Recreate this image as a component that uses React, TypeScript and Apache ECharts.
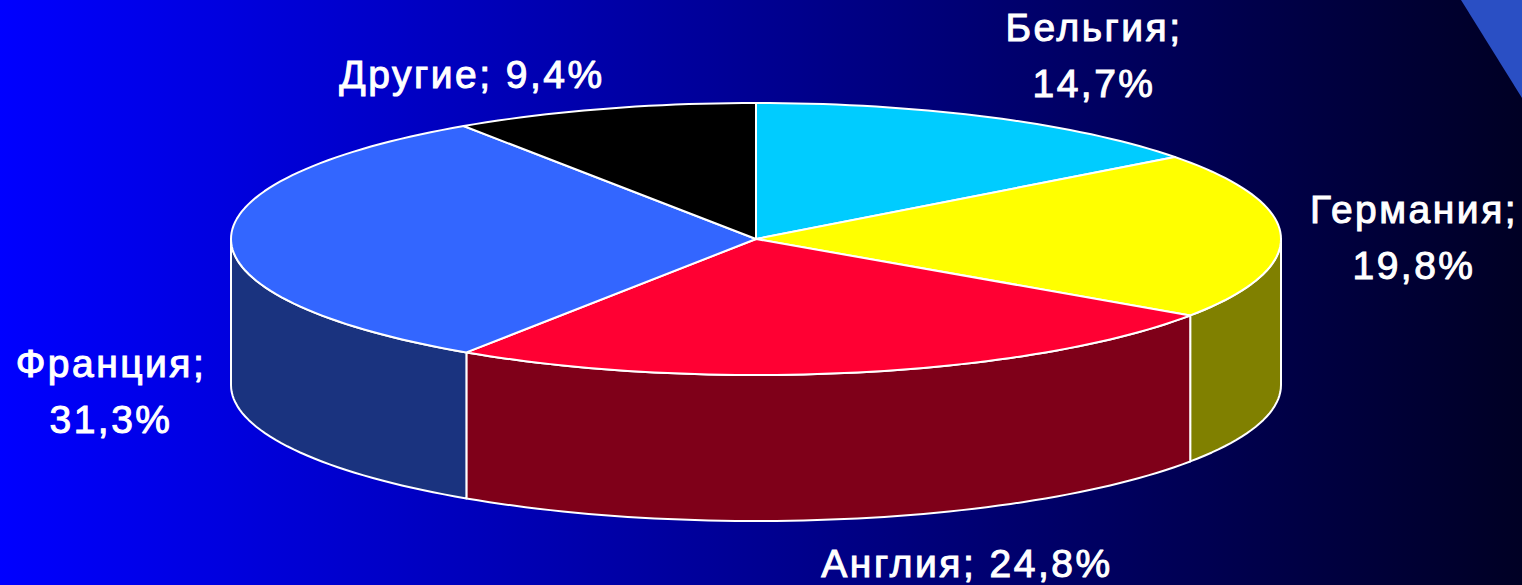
import React, { useEffect, useRef } from "react";
import * as echarts from "echarts";

const categories = ["Бельгия", "Германия", "Англия", "Франция", "Другие"];
const shares = [14.7, 19.8, 24.8, 31.3, 9.4];
const topColors = ["#00CCFF", "#FFFF00", "#FF0033", "#3366FF", "#000000"];
const wallColors = ["#006680", "#808000", "#7F0019", "#1A337F", "#000000"];
const labelBreaks = ["\n", "\n", " ", "\n", " "];
const labelAnchors: [number, number][] = [
  [1094, 55.5],
  [1414, 237],
  [967, 563],
  [111, 391],
  [472, 74],
];

const CX = 756;
const CY = 239;
const RX = 525;
const RY = 136;
const DEPTH = 146;
const STEP = 1.5;

const total = shares.reduce((a, b) => a + b, 0);
const angleAt = (i: number) =>
  (shares.slice(0, i).reduce((a, b) => a + b, 0) / total) * 360;
const pt = (deg: number, dy = 0): [number, number] => {
  const r = (deg * Math.PI) / 180;
  return [CX + RX * Math.sin(r), CY - RY * Math.cos(r) + dy];
};
const arc = (from: number, to: number, dy = 0) => {
  const out: [number, number][] = [];
  const n = Math.max(1, Math.ceil(Math.abs(to - from) / STEP));
  for (let k = 0; k <= n; k++) out.push(pt(from + ((to - from) * k) / n, dy));
  return out;
};
const wallStyle = { stroke: "#FFFFFF", lineWidth: 2, lineJoin: "round" };

export default function App() {
  const ref = useRef<HTMLDivElement>(null);
  useEffect(() => {
    document.body.style.margin = "0";
    const chart = echarts.init(ref.current!, undefined, { renderer: "svg" });
    chart.setOption({
      animation: false,
      backgroundColor: new echarts.graphic.LinearGradient(0, 0, 1, 0, [
        { offset: 0, color: "#0000FF" },
        { offset: 1, color: "#000024" },
      ]),
      graphic: [
        {
          type: "polygon",
          shape: { points: [[1461, 0], [1522, 0], [1522, 98]] },
          style: { fill: "#2A4FC4" },
        },
      ],
      series: [
        {
          type: "custom",
          coordinateSystem: "none",
          silent: true,
          z: 2,
          data: shares,
          renderItem: (params: any, api: any) => {
            const i = params.dataIndex;
            const from = Math.max(angleAt(i), 90);
            const to = Math.min(angleAt(i) + (api.value(0) / total) * 360, 270);
            if (to <= from) return { type: "group", children: [] };
            const points = [...arc(from, to), ...arc(to, from, DEPTH)];
            return {
              type: "polygon",
              shape: { points },
              style: { fill: wallColors[i], ...wallStyle },
            };
          },
        },
        {
          type: "custom",
          coordinateSystem: "none",
          silent: true,
          z: 3,
          data: shares,
          renderItem: (params: any, api: any) => {
            const i = params.dataIndex;
            const from = angleAt(i);
            const to = from + (api.value(0) / total) * 360;
            const points = [[CX, CY], ...arc(from, to)];
            const pct = api.value(0).toFixed(1).replace(".", ",");
            return {
              type: "group",
              children: [
                {
                  type: "polygon",
                  shape: { points },
                  style: { fill: topColors[i], ...wallStyle },
                },
                {
                  type: "text",
                  x: labelAnchors[i][0],
                  y: labelAnchors[i][1],
                  style: {
                    text: `${categories[i]};${labelBreaks[i]}${pct}%`,
                    fill: "#FFFFFF",
                    font: '39px "Liberation Sans"',
                    stroke: "#FFFFFF",
                    lineWidth: 1,
                    lineHeight: 56,
                    align: "center",
                    verticalAlign: "middle",
                  },
                },
              ],
            };
          },
        },
      ],
    });
    return () => chart.dispose();
  }, []);
  return <div ref={ref} style={{ width: 1522, height: 585, letterSpacing: "2.5px" }} />;
}
